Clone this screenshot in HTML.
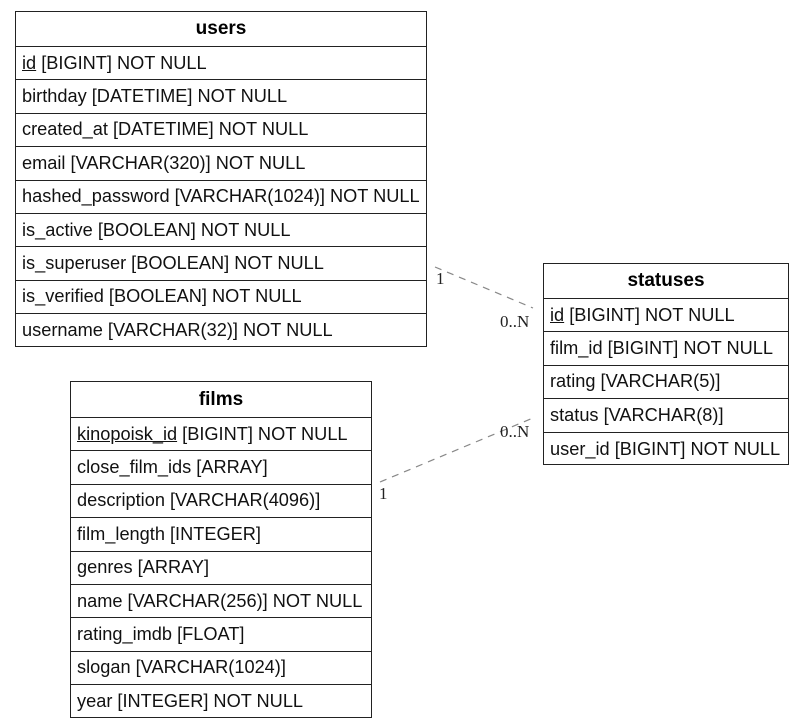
<!DOCTYPE html>
<html><head><meta charset="utf-8"><style>
body{margin:0;width:803px;height:727px;background:#fff;position:relative;font-family:"Liberation Sans",sans-serif;overflow:hidden}
.t{position:absolute;border:1px solid #222;box-sizing:border-box;background:#fff}
.h{font-weight:bold;font-size:19px;text-align:center;box-sizing:border-box;border-bottom:1px solid #222;display:flex;align-items:center;justify-content:center}
.r{font-size:18.2px;padding-left:6px;box-sizing:border-box;border-bottom:1px solid #222;display:flex;align-items:center;white-space:nowrap;color:#111}
.r:last-child{border-bottom:none}
u{text-decoration:underline}
svg{position:absolute;left:0;top:0}
</style></head><body>
<div class="t" style="left:15px;top:11px;width:412px;height:336px">
<div class="h" style="height:35px">users</div>
<div class="r" style="height:33.4px"><span><u>id</u> [BIGINT] NOT NULL</span></div>
<div class="r" style="height:33.4px">birthday [DATETIME] NOT NULL</div>
<div class="r" style="height:33.4px">created_at [DATETIME] NOT NULL</div>
<div class="r" style="height:33.4px">email [VARCHAR(320)] NOT NULL</div>
<div class="r" style="height:33.4px">hashed_password [VARCHAR(1024)] NOT NULL</div>
<div class="r" style="height:33.4px">is_active [BOOLEAN] NOT NULL</div>
<div class="r" style="height:33.4px">is_superuser [BOOLEAN] NOT NULL</div>
<div class="r" style="height:33.4px">is_verified [BOOLEAN] NOT NULL</div>
<div class="r" style="height:33.4px">username [VARCHAR(32)] NOT NULL</div>
</div>
<div class="t" style="left:70px;top:381px;width:302px;height:337px">
<div class="h" style="height:36px">films</div>
<div class="r" style="height:33.4px"><span><u>kinopoisk_id</u> [BIGINT] NOT NULL</span></div>
<div class="r" style="height:33.4px">close_film_ids [ARRAY]</div>
<div class="r" style="height:33.4px">description [VARCHAR(4096)]</div>
<div class="r" style="height:33.4px">film_length [INTEGER]</div>
<div class="r" style="height:33.4px">genres [ARRAY]</div>
<div class="r" style="height:33.4px">name [VARCHAR(256)] NOT NULL</div>
<div class="r" style="height:33.4px">rating_imdb [FLOAT]</div>
<div class="r" style="height:33.4px">slogan [VARCHAR(1024)]</div>
<div class="r" style="height:33.4px">year [INTEGER] NOT NULL</div>
</div>
<div class="t" style="left:543px;top:263px;width:246px;height:202px">
<div class="h" style="height:35px">statuses</div>
<div class="r" style="height:33.4px"><span><u>id</u> [BIGINT] NOT NULL</span></div>
<div class="r" style="height:33.4px">film_id [BIGINT] NOT NULL</div>
<div class="r" style="height:33.4px">rating [VARCHAR(5)]</div>
<div class="r" style="height:33.4px">status [VARCHAR(8)]</div>
<div class="r" style="height:33.4px">user_id [BIGINT] NOT NULL</div>
</div>
<svg width="803" height="727">
<g stroke="#888" stroke-width="1.2" stroke-dasharray="7,6" fill="none">
<line x1="435" y1="267" x2="533" y2="308"/>
<line x1="380" y1="482" x2="533" y2="418"/>
</g>
<g font-family="Liberation Serif,serif" font-size="17" fill="#222">
<text x="436" y="284">1</text>
<text x="500" y="327">0..N</text>
<text x="500" y="437">0..N</text>
<text x="379" y="499">1</text>
</g>
</svg>
</body></html>
